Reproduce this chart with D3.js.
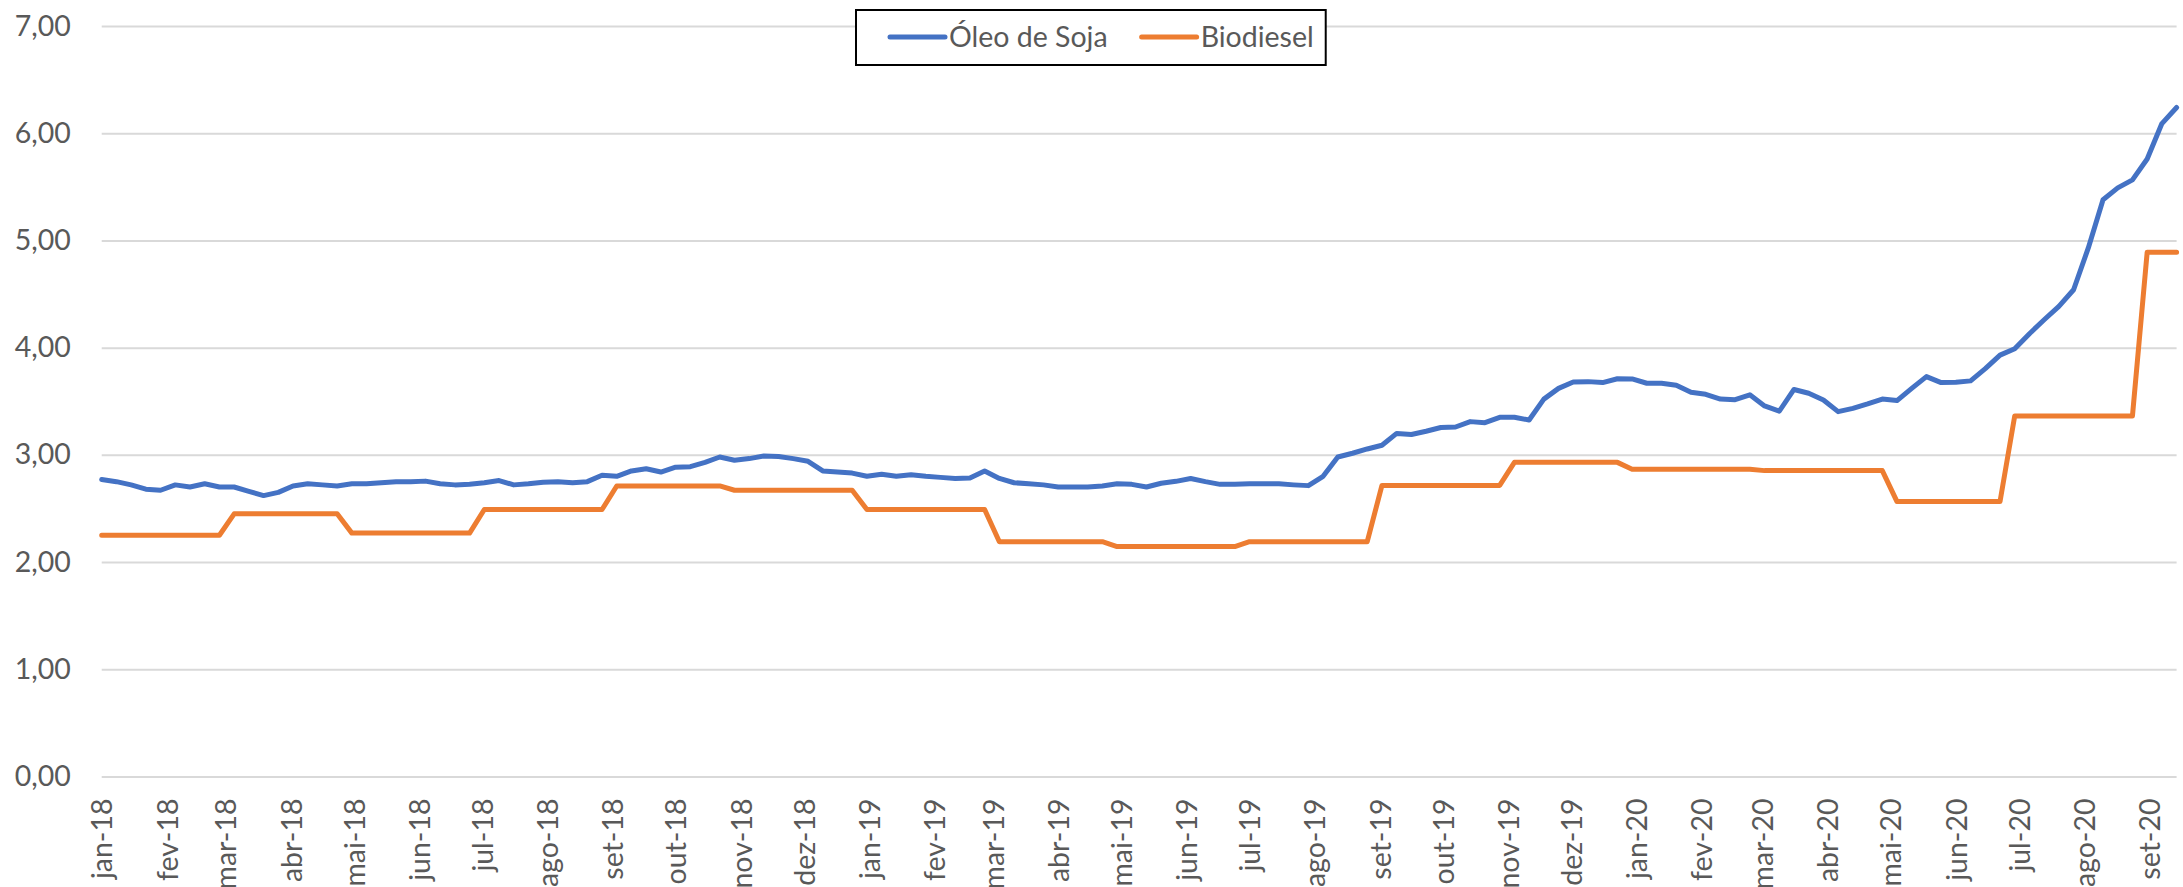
<!DOCTYPE html>
<html>
<head>
<meta charset="utf-8">
<script src="https://cdn.jsdelivr.net/npm/d3@7"></script>
<style>
  body { margin: 0; background: #fff; }
  svg { display: block; font-family: Lato, "Open Sans", sans-serif; }
</style>
</head>
<body>
<div id="chart"></div>
<script>
// weekly series, first week
var firstWeek = "2018-01-01";
var monthNames = ["jan", "fev", "mar", "abr", "mai", "jun", "jul", "ago", "set", "out", "nov", "dez"];
var yTicks = [0, 1, 2, 3, 4, 5, 6, 7];
var seriesNames = ["Óleo de Soja", "Biodiesel"];
var seriesColors = ["#4472C4", "#ED7D31"];

var oleoSoja = [
  2.77, 2.75, 2.72, 2.68, 2.67, 2.72, 2.70, 2.73, 2.70, 2.70,
  2.66, 2.62, 2.65, 2.71, 2.73, 2.72, 2.71, 2.73, 2.73, 2.74,
  2.75, 2.75, 2.755, 2.73, 2.72, 2.725, 2.74, 2.76, 2.72, 2.73,
  2.745, 2.75, 2.74, 2.75, 2.81, 2.80, 2.85, 2.87, 2.84, 2.885,
  2.89, 2.93, 2.98, 2.95, 2.965, 2.99, 2.985, 2.965, 2.94, 2.85,
  2.84, 2.83, 2.80, 2.82, 2.80, 2.815, 2.80, 2.79, 2.78, 2.785,
  2.85, 2.78, 2.74, 2.73, 2.72, 2.70, 2.70, 2.70, 2.71, 2.73,
  2.725, 2.70, 2.735, 2.753, 2.78, 2.75, 2.725, 2.725, 2.73, 2.73,
  2.73, 2.72, 2.713, 2.80, 2.98, 3.015, 3.055, 3.09, 3.20, 3.19,
  3.22, 3.255, 3.26, 3.31, 3.30, 3.35, 3.35, 3.325, 3.52, 3.62,
  3.68, 3.683, 3.674, 3.71, 3.708, 3.668, 3.668, 3.65, 3.584, 3.565,
  3.52, 3.515, 3.56, 3.456, 3.407, 3.61, 3.575, 3.512, 3.403, 3.434,
  3.475, 3.52, 3.506, 3.62, 3.73, 3.674, 3.677, 3.69, 3.804, 3.93,
  3.99, 4.13, 4.26, 4.385, 4.54, 4.93, 5.38, 5.49, 5.565, 5.76,
  6.09, 6.24
];

var biodiesel = [
  2.25, 2.25, 2.25, 2.25, 2.25, 2.25, 2.25, 2.25, 2.25,
  2.45, 2.45, 2.45, 2.45, 2.45, 2.45, 2.45, 2.45,
  2.27, 2.27, 2.27, 2.27, 2.27, 2.27, 2.27, 2.27, 2.27,
  2.49, 2.49, 2.49, 2.49, 2.49, 2.49, 2.49, 2.49, 2.49,
  2.71, 2.71, 2.71, 2.71, 2.71, 2.71, 2.71, 2.71,
  2.67, 2.67, 2.67, 2.67, 2.67, 2.67, 2.67, 2.67, 2.67,
  2.49, 2.49, 2.49, 2.49, 2.49, 2.49, 2.49, 2.49, 2.49,
  2.19, 2.19, 2.19, 2.19, 2.19, 2.19, 2.19, 2.19,
  2.145, 2.145, 2.145, 2.145, 2.145, 2.145, 2.145, 2.145, 2.145,
  2.19, 2.19, 2.19, 2.19, 2.19, 2.19, 2.19, 2.19, 2.19,
  2.715, 2.715, 2.715, 2.715, 2.715, 2.715, 2.715, 2.715, 2.715,
  2.93, 2.93, 2.93, 2.93, 2.93, 2.93, 2.93, 2.93,
  2.866, 2.866, 2.866, 2.866, 2.866, 2.866, 2.866, 2.866, 2.866,
  2.853, 2.853, 2.853, 2.853, 2.853, 2.853, 2.853, 2.853, 2.853,
  2.564, 2.564, 2.564, 2.564, 2.564, 2.564, 2.564, 2.564,
  3.363, 3.363, 3.363, 3.363, 3.363, 3.363, 3.363, 3.363, 3.363,
  4.89, 4.89, 4.89
];

var svgWidth = 2183, svgHeight = 887;
var margin = { top: 26, right: 6.4, bottom: 110.5, left: 101.7 };
var width = svgWidth - margin.left - margin.right;
var height = svgHeight - margin.top - margin.bottom;

var start = d3.utcParse("%Y-%m-%d")(firstWeek);
var dates = oleoSoja.map(function(d, i) { return d3.utcDay.offset(start, 7 * i); });
var series = [oleoSoja, biodiesel].map(function(vals, k) {
  return {
    name: seriesNames[k],
    color: seriesColors[k],
    values: vals.map(function(v, i) { return { date: dates[i], value: v }; })
  };
});

var locale = d3.formatLocale({ decimal: ",", thousands: ".", grouping: [3], currency: ["R$", ""] });
var fmtY = locale.format(".2f");
var fmtYear = d3.utcFormat("%y");

var svg = d3.select("#chart").append("svg")
  .attr("width", svgWidth)
  .attr("height", svgHeight);
svg.append("rect").attr("width", svgWidth).attr("height", svgHeight).attr("fill", "#fff");

var g = svg.append("g")
  .attr("transform", "translate(" + margin.left + "," + margin.top + ")");

var x = d3.scaleUtc()
  .domain([dates[0], dates[dates.length - 1]])
  .range([0, width]);
var y = d3.scaleLinear().domain([0, 7]).range([height, 0]);

// y axis with gridlines
var gy = g.append("g")
  .call(d3.axisLeft(y).tickValues(yTicks).tickSize(-width).tickPadding(31).tickFormat(fmtY));
gy.select(".domain").remove();
gy.selectAll("line").attr("stroke", "#d9d9d9").attr("stroke-width", 2);
gy.selectAll("text")
  .attr("fill", "#595959")
  .attr("font-size", 28.5)
  .attr("font-family", "Lato, 'Open Sans', sans-serif");

// x axis, month labels rotated
var months = d3.utcMonth.range(start, d3.utcDay.offset(dates[dates.length - 1], 1));
var gx = g.append("g")
  .attr("transform", "translate(0," + height + ")")
  .call(d3.axisBottom(x).tickValues(months).tickSize(0)
    .tickFormat(function(d) { return monthNames[d.getUTCMonth()] + "-" + fmtYear(d); }));
gx.select(".domain").remove();
gx.selectAll("text")
  .attr("transform", "rotate(-90)")
  .attr("text-anchor", "end")
  .attr("x", -22)
  .attr("y", 0)
  .attr("dy", "0.36em")
  .attr("fill", "#595959")
  .attr("font-size", 28.5)
  .attr("font-family", "Lato, 'Open Sans', sans-serif");

var line = d3.line()
  .x(function(d) { return x(d.date); })
  .y(function(d) { return y(d.value); });

g.selectAll(".serie")
  .data(series)
  .enter().append("path")
  .attr("class", "serie")
  .attr("fill", "none")
  .attr("stroke", function(d) { return d.color; })
  .attr("stroke-width", 5)
  .attr("stroke-linejoin", "round")
  .attr("stroke-linecap", "round")
  .attr("d", function(d) { return line(d.values); });

// legend
var legend = svg.append("g");
var box = legend.append("rect")
  .attr("y", 10).attr("height", 55)
  .attr("fill", "#fff").attr("stroke", "#000").attr("stroke-width", 2);
var cx = 890;
var textEnd = 0;
series.forEach(function(s, k) {
  legend.append("line")
    .attr("x1", cx).attr("x2", cx + 55)
    .attr("y1", 37).attr("y2", 37)
    .attr("stroke", s.color).attr("stroke-width", 5)
    .attr("stroke-linecap", "round");
  var t = legend.append("text")
    .attr("x", cx + 59).attr("y", 37).attr("dy", "0.36em")
    .attr("fill", "#595959").attr("font-size", 28.5)
    .text(s.name);
  textEnd = cx + 59 + t.node().getComputedTextLength();
  cx = textEnd + 34;
});
box.attr("x", 856).attr("width", textEnd + 12 - 856);
</script>
</body>
</html>
